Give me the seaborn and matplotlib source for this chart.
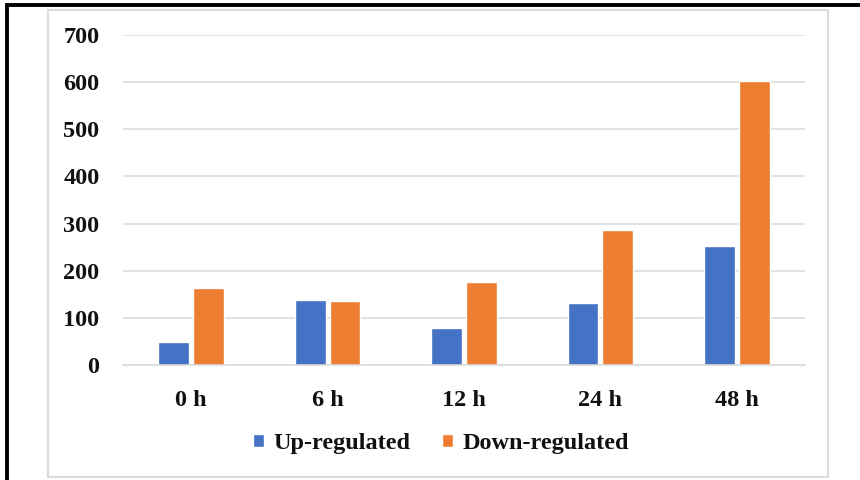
import matplotlib
matplotlib.use("Agg")
import matplotlib.pyplot as plt
from matplotlib.patches import Rectangle
import pandas as pd
import seaborn as sns

# Differentially expressed gene counts per time point
time_points = ["0 h", "6 h", "12 h", "24 h", "48 h"]
up_regulated = [48, 138, 79, 131, 253]
down_regulated = [163, 135, 176, 287, 603]
series_names = ["Up-regulated", "Down-regulated"]
y_ticks = [0, 100, 200, 300, 400, 500, 600, 700]

df = pd.DataFrame({
    "time": time_points * 2,
    "count": up_regulated + down_regulated,
    "group": [series_names[0]] * len(time_points) + [series_names[1]] * len(time_points),
})

sns.set_theme(style="white")
plt.rcParams["font.family"] = ["Liberation Serif", "DejaVu Serif"]
plt.rcParams["font.weight"] = "bold"

W, H = 860, 480
fig = plt.figure(figsize=(W / 100, H / 100), dpi=100)
fig.patch.set_facecolor("white")
ax = fig.add_axes([123 / W, 1 - 365 / H, (805 - 123) / W, (365 - 35) / H])

palette = {"Up-regulated": "#4472C4", "Down-regulated": "#ED7D31"}
sns.barplot(data=df, x="time", y="count", hue="group", hue_order=series_names,
            order=time_points, palette=palette, width=0.51, gap=0.11,
            saturation=1, ax=ax, legend=True)

ax.set_ylim(0, 700)
ax.set_xlim(-0.5, len(time_points) - 0.5)
ax.set_yticks(y_ticks)
ax.set_yticklabels([str(t) for t in y_ticks])
ax.set_xlabel("")
ax.set_ylabel("")
ax.yaxis.grid(True, color="#DADADA", linewidth=1.1)
ax.set_axisbelow(True)
for side in ["top", "right", "left"]:
    ax.spines[side].set_visible(False)
ax.spines["bottom"].set_color("#D9D9D9")
ax.spines["bottom"].set_linewidth(1.1)
ax.tick_params(axis="y", length=0, pad=17, labelsize=17.5, labelcolor="#111111")
ax.tick_params(axis="x", length=0, pad=18, labelsize=17.5, labelcolor="#111111")
for lbl in ax.get_xticklabels() + ax.get_yticklabels():
    lbl.set_fontweight("bold")

handles, labels = ax.get_legend_handles_labels()
ax.legend_.remove()
fig.legend(handles, labels, loc="center", bbox_to_anchor=(441 / W, 1 - 444 / H),
           ncol=2, frameon=False, handlelength=0.45, handleheight=0.45,
           handletextpad=0.4, columnspacing=1.3, labelcolor="#111111",
           prop={"family": "Liberation Serif", "weight": "bold", "size": 17.5})

# Chart area border and outer frame
fig.add_artist(Rectangle((48 / W, 1 - 477 / H), (828 - 48) / W, (477 - 10) / H,
                         transform=fig.transFigure, fill=False,
                         edgecolor="#DCDCDC", linewidth=1.5))
fig.add_artist(Rectangle((7 / W, -20 / H), (W + 20) / W, (480 + 20 - 5) / H,
                         transform=fig.transFigure, fill=False,
                         edgecolor="black", linewidth=2.8, clip_on=False))

fig.savefig("out.png", dpi=100, facecolor="white")
